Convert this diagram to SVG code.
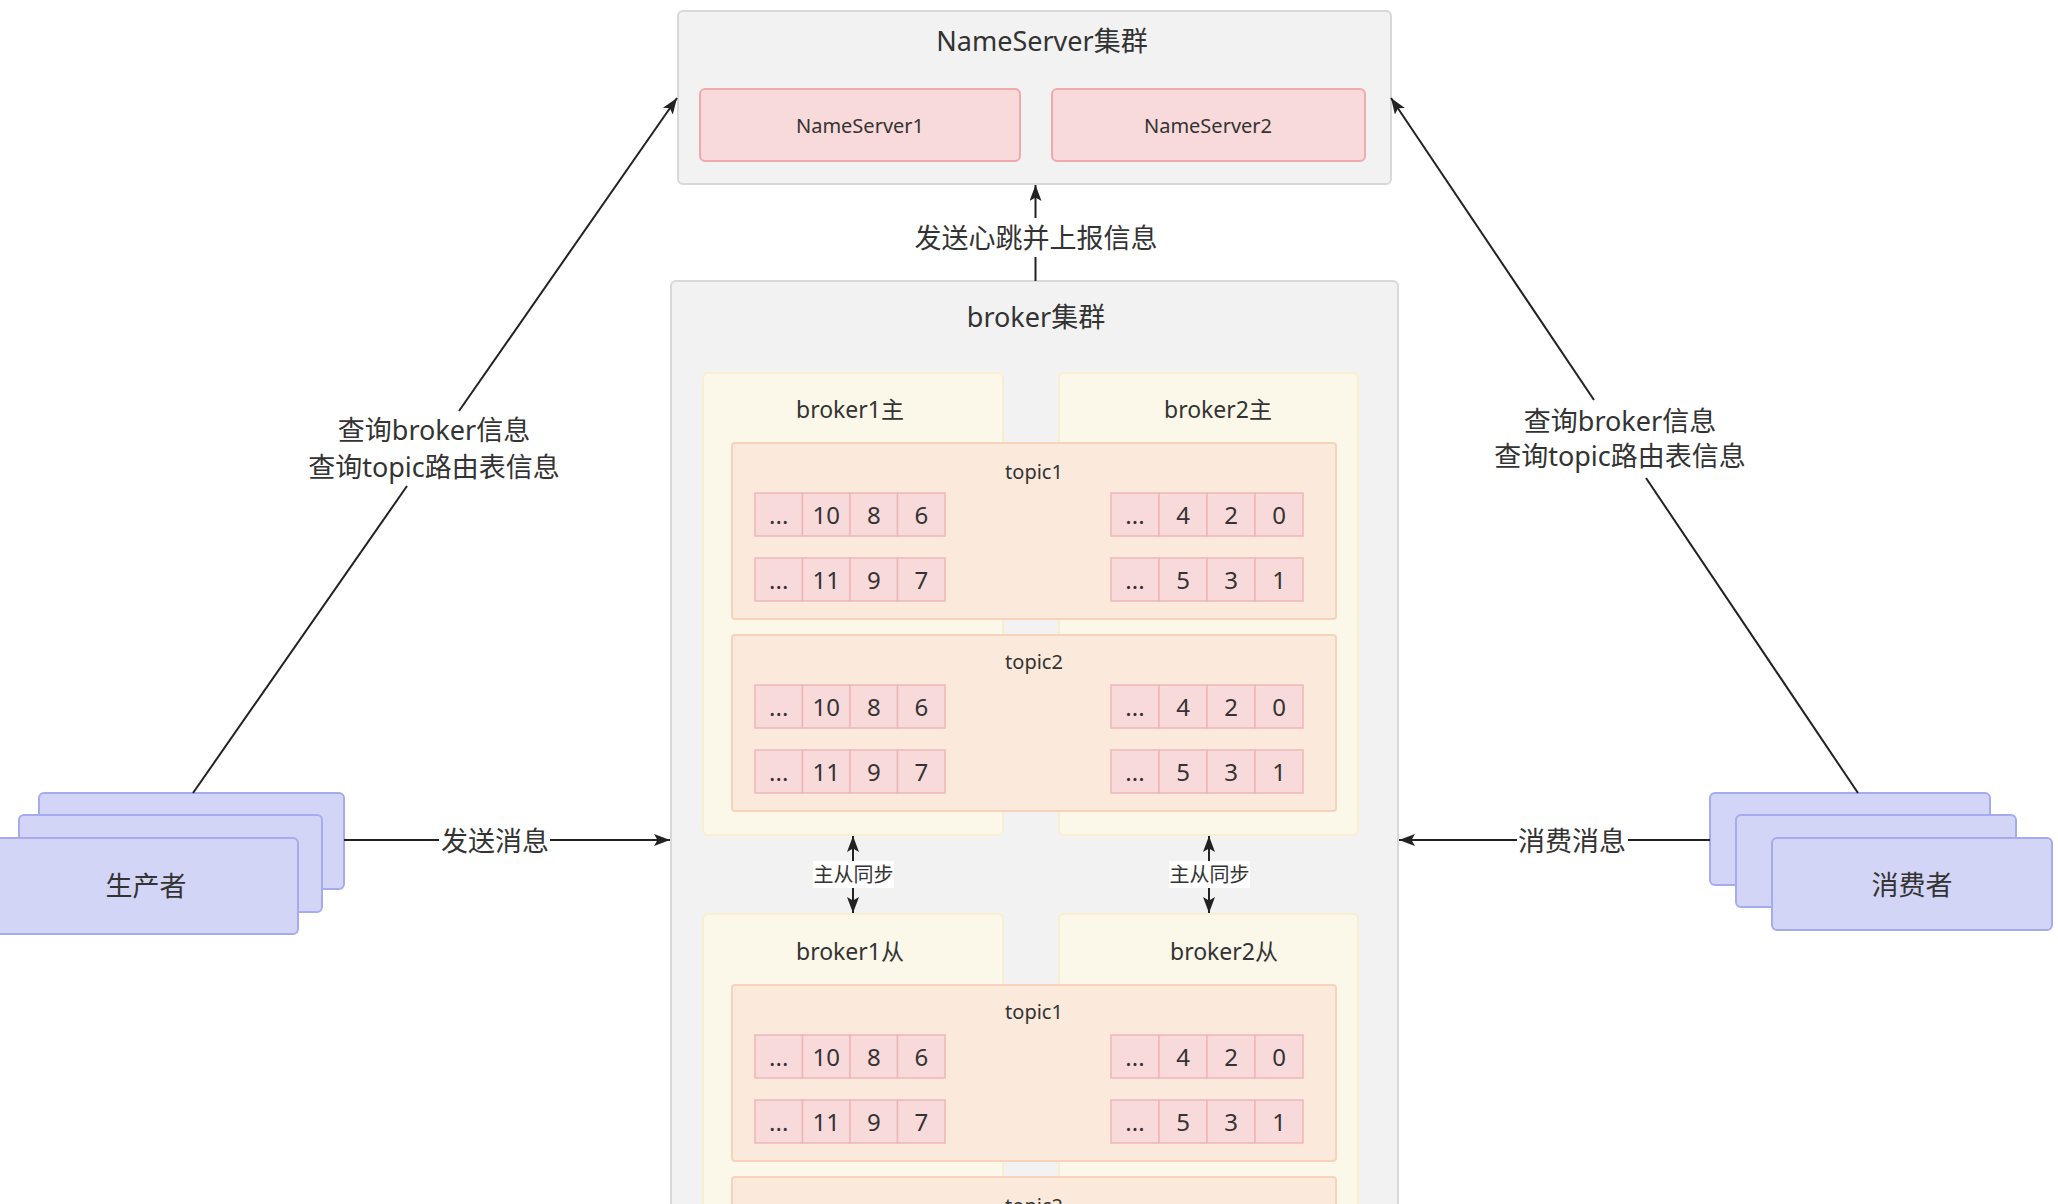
<svg xmlns="http://www.w3.org/2000/svg" width="2058" height="1204" viewBox="0 0 2058 1204">
<style>
.cluster{fill:#f2f2f2;stroke:#d8d8d8;stroke-width:2}
.ns{fill:#f9dadb;stroke:#f0a9ad;stroke-width:2}
.broker{fill:#fcf8e9;stroke:#f8efd2;stroke-width:2}
.topic{fill:#fbe9dc;stroke:#f6d3ba;stroke-width:2}
.cell{fill:#f9dadb;stroke:#efb6b8;stroke-width:1.5}
.client{fill:#d3d5f7;stroke:#a6aaee;stroke-width:2}
.t{font-family:"Noto Sans","Noto Sans CJK SC",sans-serif;fill:#333;text-anchor:middle;dominant-baseline:central}
.s27{font-size:27px}.s23{font-size:23px}.s20{font-size:20px}.s24{font-size:24px}
.edge{stroke:#222;stroke-width:2;fill:none}
</style>
<defs>
<marker id="arr" viewBox="0 0 16 12" refX="16" refY="6" markerWidth="16" markerHeight="12" markerUnits="userSpaceOnUse" orient="auto-start-reverse">
<path d="M0,0 L16,6 L0,12 L3.5,6 z" fill="#222"/>
</marker>
</defs>
<rect width="2058" height="1204" fill="#ffffff"/>

<g id="nameserver-cluster">
<rect class="cluster" x="678" y="11" width="713" height="173" rx="5"/>
<text class="t s27" x="1042" y="40">NameServer集群</text>
</g>
<g id="nameserver1">
<rect class="ns" x="700" y="89" width="320" height="72" rx="5"/>
<text class="t s20" x="860" y="125">NameServer1</text>
</g>
<g id="nameserver2">
<rect class="ns" x="1052" y="89" width="313" height="72" rx="5"/>
<text class="t s20" x="1208" y="125">NameServer2</text>
</g>

<g id="broker-cluster">
<rect class="cluster" x="671" y="281" width="727" height="960" rx="5"/>
<text class="t s27" x="1036" y="316">broker集群</text>
</g>
<g id="broker1-master">
<rect class="broker" x="703" y="373" width="300" height="462" rx="5"/>
<text class="t s23" x="850" y="409">broker1主</text>
</g>
<g id="broker2-master">
<rect class="broker" x="1059" y="373" width="299" height="462" rx="5"/>
<text class="t s23" x="1218" y="409">broker2主</text>
</g>
<g id="broker1-slave">
<rect class="broker" x="703" y="914" width="300" height="330" rx="5"/>
<text class="t s23" x="850" y="951">broker1从</text>
</g>
<g id="broker2-slave">
<rect class="broker" x="1059" y="914" width="299" height="330" rx="5"/>
<text class="t s23" x="1224" y="951">broker2从</text>
</g>

<g id="master-topic1">
<rect class="topic" x="732" y="443" width="604" height="176" rx="3"/>
<text class="t s20" x="1034" y="471">topic1</text>
<rect class="cell" x="755" y="493" width="47.5" height="43"/><text class="t s24" x="778.75" y="514.5">...</text>
<rect class="cell" x="802.5" y="493" width="47.5" height="43"/><text class="t s24" x="826.25" y="514.5">10</text>
<rect class="cell" x="850" y="493" width="47.5" height="43"/><text class="t s24" x="873.75" y="514.5">8</text>
<rect class="cell" x="897.5" y="493" width="47.5" height="43"/><text class="t s24" x="921.25" y="514.5">6</text>
<rect class="cell" x="755" y="558" width="47.5" height="43"/><text class="t s24" x="778.75" y="579.5">...</text>
<rect class="cell" x="802.5" y="558" width="47.5" height="43"/><text class="t s24" x="826.25" y="579.5">11</text>
<rect class="cell" x="850" y="558" width="47.5" height="43"/><text class="t s24" x="873.75" y="579.5">9</text>
<rect class="cell" x="897.5" y="558" width="47.5" height="43"/><text class="t s24" x="921.25" y="579.5">7</text>
<rect class="cell" x="1111" y="493" width="48" height="43"/><text class="t s24" x="1135" y="514.5">...</text>
<rect class="cell" x="1159" y="493" width="48" height="43"/><text class="t s24" x="1183" y="514.5">4</text>
<rect class="cell" x="1207" y="493" width="48" height="43"/><text class="t s24" x="1231" y="514.5">2</text>
<rect class="cell" x="1255" y="493" width="48" height="43"/><text class="t s24" x="1279" y="514.5">0</text>
<rect class="cell" x="1111" y="558" width="48" height="43"/><text class="t s24" x="1135" y="579.5">...</text>
<rect class="cell" x="1159" y="558" width="48" height="43"/><text class="t s24" x="1183" y="579.5">5</text>
<rect class="cell" x="1207" y="558" width="48" height="43"/><text class="t s24" x="1231" y="579.5">3</text>
<rect class="cell" x="1255" y="558" width="48" height="43"/><text class="t s24" x="1279" y="579.5">1</text>
</g>

<g id="master-topic2">
<rect class="topic" x="732" y="635" width="604" height="176" rx="3"/>
<text class="t s20" x="1034" y="661">topic2</text>
<rect class="cell" x="755" y="685" width="47.5" height="43"/><text class="t s24" x="778.75" y="706.5">...</text>
<rect class="cell" x="802.5" y="685" width="47.5" height="43"/><text class="t s24" x="826.25" y="706.5">10</text>
<rect class="cell" x="850" y="685" width="47.5" height="43"/><text class="t s24" x="873.75" y="706.5">8</text>
<rect class="cell" x="897.5" y="685" width="47.5" height="43"/><text class="t s24" x="921.25" y="706.5">6</text>
<rect class="cell" x="755" y="750" width="47.5" height="43"/><text class="t s24" x="778.75" y="771.5">...</text>
<rect class="cell" x="802.5" y="750" width="47.5" height="43"/><text class="t s24" x="826.25" y="771.5">11</text>
<rect class="cell" x="850" y="750" width="47.5" height="43"/><text class="t s24" x="873.75" y="771.5">9</text>
<rect class="cell" x="897.5" y="750" width="47.5" height="43"/><text class="t s24" x="921.25" y="771.5">7</text>
<rect class="cell" x="1111" y="685" width="48" height="43"/><text class="t s24" x="1135" y="706.5">...</text>
<rect class="cell" x="1159" y="685" width="48" height="43"/><text class="t s24" x="1183" y="706.5">4</text>
<rect class="cell" x="1207" y="685" width="48" height="43"/><text class="t s24" x="1231" y="706.5">2</text>
<rect class="cell" x="1255" y="685" width="48" height="43"/><text class="t s24" x="1279" y="706.5">0</text>
<rect class="cell" x="1111" y="750" width="48" height="43"/><text class="t s24" x="1135" y="771.5">...</text>
<rect class="cell" x="1159" y="750" width="48" height="43"/><text class="t s24" x="1183" y="771.5">5</text>
<rect class="cell" x="1207" y="750" width="48" height="43"/><text class="t s24" x="1231" y="771.5">3</text>
<rect class="cell" x="1255" y="750" width="48" height="43"/><text class="t s24" x="1279" y="771.5">1</text>
</g>

<g id="slave-topic1">
<rect class="topic" x="732" y="985" width="604" height="176" rx="3"/>
<text class="t s20" x="1034" y="1011">topic1</text>
<rect class="cell" x="755" y="1035" width="47.5" height="43"/><text class="t s24" x="778.75" y="1056.5">...</text>
<rect class="cell" x="802.5" y="1035" width="47.5" height="43"/><text class="t s24" x="826.25" y="1056.5">10</text>
<rect class="cell" x="850" y="1035" width="47.5" height="43"/><text class="t s24" x="873.75" y="1056.5">8</text>
<rect class="cell" x="897.5" y="1035" width="47.5" height="43"/><text class="t s24" x="921.25" y="1056.5">6</text>
<rect class="cell" x="755" y="1100" width="47.5" height="43"/><text class="t s24" x="778.75" y="1121.5">...</text>
<rect class="cell" x="802.5" y="1100" width="47.5" height="43"/><text class="t s24" x="826.25" y="1121.5">11</text>
<rect class="cell" x="850" y="1100" width="47.5" height="43"/><text class="t s24" x="873.75" y="1121.5">9</text>
<rect class="cell" x="897.5" y="1100" width="47.5" height="43"/><text class="t s24" x="921.25" y="1121.5">7</text>
<rect class="cell" x="1111" y="1035" width="48" height="43"/><text class="t s24" x="1135" y="1056.5">...</text>
<rect class="cell" x="1159" y="1035" width="48" height="43"/><text class="t s24" x="1183" y="1056.5">4</text>
<rect class="cell" x="1207" y="1035" width="48" height="43"/><text class="t s24" x="1231" y="1056.5">2</text>
<rect class="cell" x="1255" y="1035" width="48" height="43"/><text class="t s24" x="1279" y="1056.5">0</text>
<rect class="cell" x="1111" y="1100" width="48" height="43"/><text class="t s24" x="1135" y="1121.5">...</text>
<rect class="cell" x="1159" y="1100" width="48" height="43"/><text class="t s24" x="1183" y="1121.5">5</text>
<rect class="cell" x="1207" y="1100" width="48" height="43"/><text class="t s24" x="1231" y="1121.5">3</text>
<rect class="cell" x="1255" y="1100" width="48" height="43"/><text class="t s24" x="1279" y="1121.5">1</text>
</g>

<g id="slave-topic2">
<rect class="topic" x="732" y="1177" width="604" height="80" rx="3"/>
<text class="t s20" x="1034" y="1205">topic2</text>
</g>

<g id="producer">
<rect class="client" x="39" y="793" width="305" height="96" rx="5"/>
<rect class="client" x="19" y="815" width="303" height="97" rx="5"/>
<rect class="client" x="-4" y="838" width="302" height="96" rx="5"/>
<text class="t s27" x="146" y="885">生产者</text>
</g>

<g id="consumer">
<rect class="client" x="1710" y="793" width="280" height="92" rx="5"/>
<rect class="client" x="1736" y="815" width="280" height="92" rx="5"/>
<rect class="client" x="1772" y="838" width="280" height="92" rx="5"/>
<text class="t s27" x="1912" y="884">消费者</text>
</g>

<g id="connectors">
<line class="edge" x1="1035.5" y1="281" x2="1035.5" y2="257"/>
<line class="edge" x1="1035.5" y1="218" x2="1035.5" y2="185" marker-end="url(#arr)"/>
<text class="t s27" x="1036" y="237">发送心跳并上报信息</text>

<line class="edge" x1="344" y1="840" x2="439" y2="840"/>
<line class="edge" x1="550" y1="840" x2="670" y2="840" marker-end="url(#arr)"/>
<text class="t s27" x="495" y="840">发送消息</text>

<line class="edge" x1="1710" y1="840" x2="1628" y2="840"/>
<line class="edge" x1="1517" y1="840" x2="1399" y2="840" marker-end="url(#arr)"/>
<text class="t s27" x="1572" y="840">消费消息</text>

<line class="edge" x1="193" y1="793" x2="407" y2="486"/>
<line class="edge" x1="459" y1="411" x2="677" y2="98" marker-end="url(#arr)"/>
<text class="t s27" x="434" y="429">查询broker信息</text>
<text class="t s27" x="434" y="466">查询topic路由表信息</text>

<line class="edge" x1="1858" y1="793" x2="1646" y2="478"/>
<line class="edge" x1="1594" y1="400" x2="1391" y2="98" marker-end="url(#arr)"/>
<text class="t s27" x="1620" y="420">查询broker信息</text>
<text class="t s27" x="1620" y="455">查询topic路由表信息</text>

<line class="edge" x1="853" y1="836" x2="853" y2="913" marker-start="url(#arr)" marker-end="url(#arr)"/>
<rect x="813" y="861" width="81" height="27" fill="#ffffff"/>
<text class="t s20" x="853.5" y="874.5">主从同步</text>

<line class="edge" x1="1209" y1="836" x2="1209" y2="913" marker-start="url(#arr)" marker-end="url(#arr)"/>
<rect x="1169" y="861" width="81" height="27" fill="#ffffff"/>
<text class="t s20" x="1209.5" y="874.5">主从同步</text>
</g>
</svg>
